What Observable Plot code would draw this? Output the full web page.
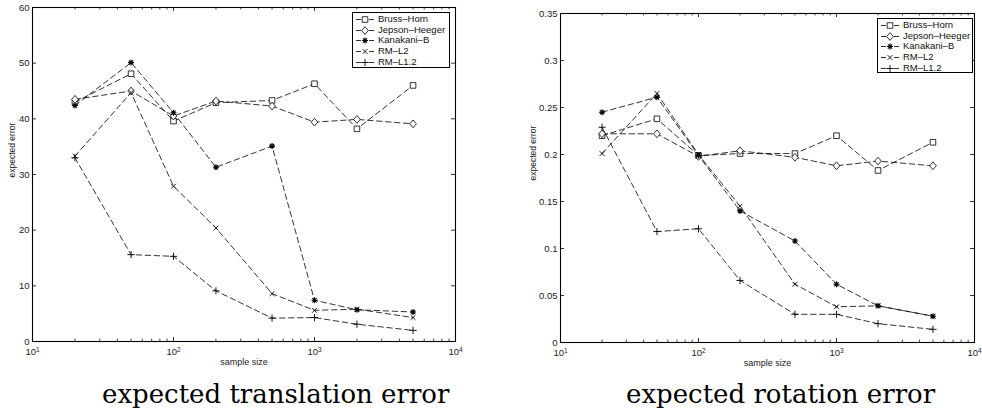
<!DOCTYPE html>
<html><head><meta charset="utf-8">
<script src="https://cdn.jsdelivr.net/npm/d3@7"></script>
<script src="https://cdn.jsdelivr.net/npm/@observablehq/plot@0.6"></script>
<style>
body{margin:0;background:#fff;}
#root{position:relative;width:982px;height:411px;overflow:hidden;background:#fff;}
.panel{position:absolute;top:0;}
.cap{position:absolute;font-family:"DejaVu Serif",serif;font-size:26px;line-height:26px;white-space:nowrap;color:#000;}
.legend{position:absolute;border:1px solid #000;background:#fff;font-family:"Liberation Sans",Arial,sans-serif;font-size:9.5px;color:#111;box-sizing:border-box;}
.row{position:relative;height:10.8px;line-height:10.8px;white-space:nowrap;}
.row svg{position:absolute;left:3px;top:0;}
.row span{position:absolute;left:25px;top:0;}
</style></head><body><div id="root"></div><script>
const sampleSizes = [20, 50, 100, 200, 500, 1000, 2000, 5000];
const methods = ["Bruss–Horn", "Jepson–Heeger", "Kanakani–B", "RM–L2", "RM–L1.2"];

const translationBrussHorn    = [43.0, 48.1, 39.6, 42.9, 43.3, 46.3, 38.2, 46.0];
const translationJepsonHeeger = [43.5, 45.0, 40.5, 43.2, 42.3, 39.4, 39.9, 39.1];
const translationKanakaniB    = [42.4, 50.1, 41.1, 31.3, 35.1, 7.4, 5.7, 5.3];
const translationRML2         = [33.3, 44.7, 27.9, 20.4, 8.6, 5.6, 5.8, 4.3];
const translationRML12        = [33.0, 15.6, 15.3, 9.1, 4.2, 4.3, 3.1, 2.0];

const rotationBrussHorn    = [0.220, 0.238, 0.199, 0.201, 0.201, 0.220, 0.183, 0.213];
const rotationJepsonHeeger = [0.222, 0.222, 0.198, 0.204, 0.197, 0.188, 0.193, 0.188];
const rotationKanakaniB    = [0.245, 0.261, 0.199, 0.140, 0.108, 0.062, 0.039, 0.028];
const rotationRML2         = [0.201, 0.265, 0.200, 0.145, 0.062, 0.038, 0.039, 0.028];
const rotationRML12        = [0.229, 0.118, 0.121, 0.066, 0.030, 0.030, 0.020, 0.014];

const xTicks = [10, 100, 1000, 10000];
const translationTicks = [0, 10, 20, 30, 40, 50, 60];
const rotationTicks = [0, 0.05, 0.1, 0.15, 0.2, 0.25, 0.3, 0.35];
const captions = ["expected translation error", "expected rotation error"];
const xLabel = "sample size";
const yLabel = "expected error";

const minorTicks = [];
[10, 100, 1000].forEach(d => { for (let k = 2; k <= 9; k++) minorTicks.push(d * k); });

function seg(c, x0, y0, x1, y1) { c.moveTo(x0, y0); c.lineTo(x1, y1); }
const symSquare = {draw(c) { c.rect(-2.8, -2.8, 5.6, 5.6); }};
const symDiamond = {draw(c) { c.moveTo(0, -3.9); c.lineTo(3.3, 0); c.lineTo(0, 3.9); c.lineTo(-3.3, 0); c.closePath(); }};
const symStar = {draw(c) { const r = 3, q = r * 0.7071; seg(c, -r, 0, r, 0); seg(c, 0, -r, 0, r); seg(c, -q, -q, q, q); seg(c, -q, q, q, -q); }};
const symTimes = {draw(c) { const r = 2.4; seg(c, -r, -r, r, r); seg(c, -r, r, r, -r); }};
const symPlus = {draw(c) { const r = 3.6; seg(c, -r, 0, r, 0); seg(c, 0, -r, 0, r); }};
const symbols = [symSquare, symDiamond, symStar, symTimes, symPlus];
const fills = ["#fff", "#fff", "none", "none", "none"];
const widths = [0.8, 0.8, 1.1, 0.9, 0.9];

const DASH = "5.5,3.5";
const ns = "http://www.w3.org/2000/svg";

function panel({values, yDomain, yTicks, yFmt, mt, mr, mb, ml, yDx, yDy}) {
  const W = 491, H = 372;
  const plotH = H - mt - mb, plotW = W - ml - mr;
  const rows = [];
  methods.forEach((m, i) => values[i].forEach((v, j) => rows.push({method: m, n: sampleSizes[j], err: v})));
  const svg = Plot.plot({
    width: W, height: H,
    marginTop: mt, marginRight: mr, marginBottom: mb, marginLeft: ml,
    style: {fontFamily: "Liberation Sans, Arial, sans-serif", fontSize: "9.5px", overflow: "visible", background: "transparent"},
    x: {type: "log", domain: [10, 10000], label: null},
    y: {domain: yDomain, label: null},
    marks: [
      Plot.tickX(xTicks, {x: d => d, insetTop: plotH - 4, stroke: "#000", strokeWidth: 0.8}),
      Plot.tickX(xTicks, {x: d => d, insetBottom: plotH - 4, stroke: "#000", strokeWidth: 0.8}),
      Plot.tickX(minorTicks, {x: d => d, insetTop: plotH - 2.5, stroke: "#000", strokeWidth: 0.7}),
      Plot.tickX(minorTicks, {x: d => d, insetBottom: plotH - 2.5, stroke: "#000", strokeWidth: 0.7}),
      Plot.tickY(yTicks, {y: d => d, insetRight: plotW - 4, stroke: "#000", strokeWidth: 0.8}),
      Plot.tickY(yTicks, {y: d => d, insetLeft: plotW - 4, stroke: "#000", strokeWidth: 0.8}),
      Plot.axisX({ticks: xTicks, tickSize: 0, tickPadding: 7, tickFormat: d => String(Math.round(Math.log10(d))), fill: "#222", label: null}),
      Plot.axisY({ticks: yTicks, tickSize: 0, tickPadding: 3, tickFormat: yFmt, fill: "#222", label: null}),
      Plot.line(rows, {x: "n", y: "err", z: "method", stroke: "#000", strokeWidth: 0.8, strokeDasharray: DASH}),
      ...methods.map((m, i) => Plot.dot(rows.filter(r => r.method === m), {
        x: "n", y: "err", symbol: symbols[i], r: 3, fill: fills[i], stroke: "#000", strokeWidth: widths[i]
      })),
      Plot.text([yLabel], {frameAnchor: "left", dx: yDx, dy: yDy, rotate: -90, fontSize: 8.5, fill: "#222"}),
      Plot.text([xLabel], {frameAnchor: "bottom", dy: 23, fontSize: 9, fill: "#222"}),
      Plot.frame({stroke: "#000", strokeWidth: 1.1})
    ]
  });
  svg.querySelectorAll('g[aria-label="x-axis tick label"] text').forEach(t => {
    const e = t.textContent;
    t.textContent = "10";
    const ts = document.createElementNS(ns, "tspan");
    ts.setAttribute("dy", "-0.45em");
    ts.setAttribute("font-size", "6.5");
    ts.textContent = e;
    t.appendChild(ts);
  });
  return svg;
}

function legend(left, top, w, h) {
  const div = document.createElement("div");
  div.className = "legend";
  Object.assign(div.style, {left: left + "px", top: top + "px", width: w + "px", height: h + "px", paddingTop: "0.8px"});
  methods.forEach((m, i) => {
    const row = document.createElement("div");
    row.className = "row";
    const s = d3.create("svg").attr("width", 20).attr("height", 11);
    s.append("line").attr("x1", 0).attr("x2", 18).attr("y1", 5.5).attr("y2", 5.5)
      .attr("stroke", "#000").attr("stroke-width", 0.8).attr("stroke-dasharray", "5,8,5");
    const p = d3.path(); symbols[i].draw(p);
    s.append("path").attr("transform", "translate(9,5.5)").attr("d", p.toString())
      .attr("fill", fills[i]).attr("stroke", "#000").attr("stroke-width", widths[i]);
    row.appendChild(s.node());
    const sp = document.createElement("span"); sp.textContent = m;
    row.appendChild(sp);
    div.appendChild(row);
  });
  return div;
}

const root = document.getElementById("root");

const left = document.createElement("div");
left.className = "panel"; left.style.left = "0px";
left.appendChild(panel({
  values: [translationBrussHorn, translationJepsonHeeger, translationKanakaniB, translationRML2, translationRML12],
  yDomain: [0, 60], yTicks: translationTicks, yFmt: d => String(d),
  mt: 7, mr: 36, mb: 31, ml: 32, yDx: -20, yDy: 3
}));
root.appendChild(left);

const right = document.createElement("div");
right.className = "panel"; right.style.left = "491px";
right.appendChild(panel({
  values: [rotationBrussHorn, rotationJepsonHeeger, rotationKanakaniB, rotationRML2, rotationRML12],
  yDomain: [0, 0.35], yTicks: rotationTicks, yFmt: d => String(+d.toFixed(2)),
  mt: 13, mr: 8, mb: 30, ml: 69, yDx: -27, yDy: 2.5
}));
root.appendChild(right);

root.appendChild(legend(352, 12, 98, 56));
root.appendChild(legend(877, 18, 96, 55));

const c1 = document.createElement("div"); c1.className = "cap"; c1.textContent = captions[0];
Object.assign(c1.style, {left: "102px", top: "381px"});
root.appendChild(c1);
const c2 = document.createElement("div"); c2.className = "cap"; c2.textContent = captions[1];
Object.assign(c2.style, {left: "626px", top: "381px"});
root.appendChild(c2);
</script></body></html>
